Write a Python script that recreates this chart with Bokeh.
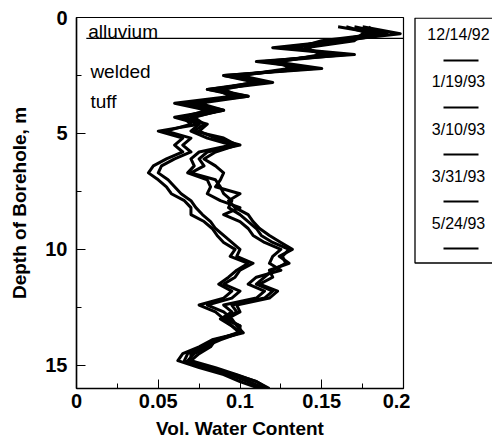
from bokeh.plotting import figure
from bokeh.models import Range1d, FixedTicker
from bokeh.layouts import row
from bokeh.embed import file_html
from bokeh.resources import INLINE
from bokeh.core.properties import value

# ---------------- data ----------------
depth = [0.4, 0.7, 1.0, 1.3, 1.6, 1.9, 2.2, 2.5, 2.8, 3.1, 3.4, 3.7, 4.0, 4.3,
         4.6, 4.9, 5.2, 5.5, 5.8, 6.1, 6.4, 6.7, 7.0, 7.3, 7.6, 7.9, 8.2, 8.5,
         8.8, 9.1, 9.4, 9.7, 10.0, 10.3, 10.6, 10.9, 11.2, 11.5, 11.8, 12.1,
         12.4, 12.7, 13.0, 13.3, 13.6, 13.9, 14.2, 14.5, 14.8, 15.1, 15.4,
         15.7, 16.0]

wc_121492 = [0.175, 0.198, 0.160, 0.125, 0.170, 0.110, 0.145, 0.090, 0.115, 0.080,
             0.105, 0.065, 0.085, 0.060, 0.075, 0.050, 0.065, 0.060, 0.065, 0.055,
             0.047, 0.044, 0.050, 0.055, 0.058, 0.066, 0.070, 0.070, 0.078, 0.083,
             0.086, 0.090, 0.097, 0.094, 0.105, 0.098, 0.093, 0.087, 0.095, 0.090,
             0.075, 0.085, 0.090, 0.095, 0.100, 0.083, 0.075, 0.065, 0.062, 0.075,
             0.090, 0.100, 0.112]
wc_011993 = [0.160, 0.185, 0.150, 0.135, 0.155, 0.120, 0.135, 0.100, 0.108, 0.085,
             0.095, 0.060, 0.080, 0.065, 0.070, 0.055, 0.070, 0.065, 0.070, 0.060,
             0.052, 0.050, 0.056, 0.060, 0.064, 0.070, 0.073, 0.077, 0.082, 0.085,
             0.090, 0.095, 0.100, 0.098, 0.108, 0.100, 0.097, 0.090, 0.100, 0.095,
             0.080, 0.090, 0.095, 0.098, 0.102, 0.085, 0.078, 0.068, 0.066, 0.078,
             0.093, 0.105, 0.115]
wc_031093 = [0.170, 0.190, 0.165, 0.130, 0.160, 0.115, 0.140, 0.095, 0.112, 0.090,
             0.100, 0.070, 0.090, 0.070, 0.075, 0.070, 0.080, 0.095, 0.075, 0.070,
             0.072, 0.068, 0.080, 0.082, 0.080, 0.088, 0.100, 0.090, 0.100, 0.105,
             0.108, 0.115, 0.125, 0.120, 0.118, 0.125, 0.110, 0.105, 0.115, 0.110,
             0.090, 0.095, 0.088, 0.095, 0.100, 0.088, 0.078, 0.070, 0.070, 0.080,
             0.095, 0.105, 0.115]
wc_033193 = [0.180, 0.175, 0.170, 0.140, 0.150, 0.125, 0.130, 0.100, 0.120, 0.085,
             0.105, 0.075, 0.090, 0.065, 0.080, 0.075, 0.085, 0.100, 0.080, 0.075,
             0.078, 0.070, 0.085, 0.088, 0.090, 0.095, 0.093, 0.100, 0.105, 0.110,
             0.113, 0.120, 0.130, 0.126, 0.128, 0.120, 0.115, 0.110, 0.120, 0.115,
             0.095, 0.098, 0.090, 0.100, 0.098, 0.086, 0.080, 0.072, 0.068, 0.082,
             0.097, 0.110, 0.118]
wc_052493 = [0.165, 0.180, 0.160, 0.120, 0.165, 0.120, 0.150, 0.090, 0.110, 0.080,
             0.100, 0.070, 0.088, 0.072, 0.078, 0.072, 0.090, 0.098, 0.085, 0.078,
             0.085, 0.090, 0.088, 0.085, 0.100, 0.093, 0.097, 0.105, 0.108, 0.112,
             0.118, 0.125, 0.132, 0.124, 0.130, 0.118, 0.120, 0.112, 0.123, 0.118,
             0.098, 0.100, 0.092, 0.100, 0.100, 0.085, 0.082, 0.075, 0.070, 0.085,
             0.098, 0.110, 0.117]

dates = ["12/14/92", "1/19/93", "3/10/93", "3/31/93", "5/24/93"]
series = [wc_121492, wc_011993, wc_031093, wc_033193, wc_052493]

x_ticks = [0, 0.05, 0.1, 0.15, 0.2]
x_tick_labels = ["0", "0.05", "0.1", "0.15", "0.2"]
y_ticks = [0, 5, 10, 15]
y_tick_labels = ["0", "5", "10", "15"]

layer_labels = ["alluvium", "welded", "tuff"]
alluvium_base = 0.9

FONT = "Liberation Sans"
TOP, BOTTOM = 17, 53

# ---------------- main plot ----------------
p = figure(width=410, height=441,
           x_range=Range1d(0, 0.2), y_range=Range1d(16, 0),
           output_backend="svg", toolbar_location=None,
           min_border_left=76, min_border_right=7,
           min_border_top=TOP, min_border_bottom=BOTTOM)
p.grid.visible = False
p.outline_line_color = "black"
p.outline_line_width = 1.2
p.background_fill_color = "white"
p.border_fill_color = "white"

for wc in series:
    p.line(wc, depth, line_color="black", line_width=3, line_join="round")

# alluvium / welded tuff boundary
p.segment(x0=[0.006], y0=[alluvium_base], x1=[0.2], y1=[alluvium_base],
          line_color="black", line_width=1.4)

p.text(x=[0.0072, 0.0085, 0.0085], y=[0.6, 2.33, 3.62],
       text=layer_labels, text_font=value(FONT), text_font_size="19px",
       text_color="black", text_baseline="middle", text_align="left")

# axes
p.xaxis.ticker = FixedTicker(ticks=x_ticks,
                             minor_ticks=[(a + b) / 2 for a, b in zip(x_ticks[:-1], x_ticks[1:])])
p.xaxis.major_label_overrides = {t: l for t, l in zip(x_ticks, x_tick_labels)}
p.yaxis.ticker = FixedTicker(ticks=y_ticks,
                             minor_ticks=[2.5, 7.5, 12.5])
p.yaxis.major_label_overrides = {t: l for t, l in zip(y_ticks, y_tick_labels)}

for ax in (p.xaxis[0], p.yaxis[0]):
    ax.axis_line_color = "black"
    ax.axis_line_width = 1.5
    ax.major_tick_in = 9
    ax.major_tick_out = 0
    ax.minor_tick_in = 5
    ax.minor_tick_out = 0
    ax.major_tick_line_color = "black"
    ax.minor_tick_line_color = "black"
    ax.major_label_text_font = FONT
    ax.major_label_text_font_size = "20px"
    ax.major_label_text_font_style = "bold"
    ax.major_label_text_color = "black"
    ax.axis_label_text_font = FONT
    ax.axis_label_text_font_size = "19px"
    ax.axis_label_text_font_style = "bold"
    ax.axis_label_text_color = "black"

p.xaxis.axis_label = "Vol. Water Content"
p.yaxis.axis_label = "Depth of Borehole, m"
p.xaxis.major_label_standoff = 5
p.xaxis.axis_label_standoff = 7
p.yaxis.major_label_standoff = 9
p.yaxis.axis_label_standoff = 12
p.yaxis.major_label_orientation = "horizontal"

# ---------------- legend panel (coordinates = page pixels) ----------------
leg = figure(width=82, height=441, x_range=Range1d(410, 492),
             y_range=Range1d(441 - BOTTOM, TOP),
             output_backend="svg", toolbar_location=None,
             min_border_left=0, min_border_right=0,
             min_border_top=TOP, min_border_bottom=BOTTOM,
             x_axis_type=None, y_axis_type=None, outline_line_color=None)
leg.grid.visible = False
leg.background_fill_color = "white"
leg.border_fill_color = "white"

leg.line(x=[492, 414.5, 414.5, 492], y=[17.6, 17.6, 262.5, 262.5],
         line_color="black", line_width=1.3)

n = len(dates)
leg.text(x=[458] * n, y=[34 + 47.3 * i for i in range(n)], text=dates,
         text_font=value(FONT), text_font_size="16px", text_color="black",
         text_align="center", text_baseline="middle")
leg.segment(x0=[443] * n, y0=[60 + 47 * i for i in range(n)],
            x1=[478] * n, y1=[60 + 47 * i for i in range(n)],
            line_color="black", line_width=2)

layout = row(p, leg)
open("out.html", "w").write(file_html(layout, INLINE))
